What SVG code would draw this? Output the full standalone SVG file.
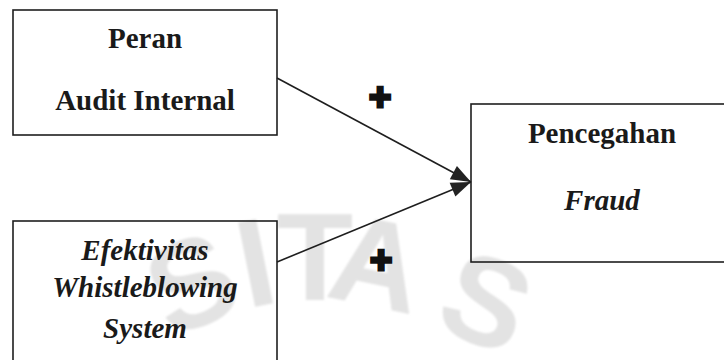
<svg xmlns="http://www.w3.org/2000/svg" width="724" height="360" viewBox="0 0 724 360">
<style>
.box{fill:none;stroke:#1e1e1e;stroke-width:1.6}
.lbl{font-family:"Liberation Serif","Times New Roman",serif;font-weight:bold;font-size:29px;fill:#1a1a1a;text-anchor:middle}
.it{font-style:italic}
.wm{font-family:"Liberation Sans",Arial,sans-serif;font-weight:bold;font-size:125px;fill:#e3e3e3;text-anchor:middle}
.conn{stroke:#1e1e1e;stroke-width:1.6;fill:none}
.plus{font-family:"Liberation Sans",Arial,sans-serif;font-weight:bold;font-size:38px;fill:#111;stroke:#111;stroke-width:3;text-anchor:middle}
</style>
<defs>
<marker id="ah" markerUnits="userSpaceOnUse" markerWidth="24" markerHeight="18" refX="21" refY="9" orient="auto">
<path d="M1,1.5 L21,9 L1,16.5 Z" fill="#222"/>
</marker>
<filter id="soft" x="-10%" y="-10%" width="120%" height="120%"><feGaussianBlur stdDeviation="1.2"/></filter>
</defs>
<rect width="724" height="360" fill="#fff"/>
<g id="watermark" filter="url(#soft)">
<text class="wm" x="315" y="300" transform="rotate(-24 315 560)">S</text>
<text class="wm" x="315" y="300" transform="rotate(-11.3 315 560)">I</text>
<text class="wm" x="315" y="300">T</text>
<text class="wm" x="315" y="300" transform="rotate(11.8 315 560)">A</text>
<text class="wm" x="487" y="345" transform="rotate(22 487 300)">S</text>
</g>
<g id="connectors">
<line class="conn" x1="277" y1="78" x2="471" y2="182" marker-end="url(#ah)"/>
<line class="conn" x1="277" y1="262" x2="471" y2="182" marker-end="url(#ah)"/>
<text class="plus" x="380" y="110">+</text>
<text class="plus" x="381" y="273">+</text>
</g>
<g id="node-audit">
<rect class="box" x="13" y="10" width="264" height="125"/>
<text class="lbl" x="145" y="48">Peran</text>
<text class="lbl" x="145" y="110">Audit Internal</text>
</g>
<g id="node-wbs">
<rect class="box" x="13" y="221" width="264" height="150"/>
<text class="lbl it" x="145" y="260">Efektivitas</text>
<text class="lbl it" x="145" y="297">Whistleblowing</text>
<text class="lbl it" x="145" y="338">System</text>
</g>
<g id="node-fraud">
<rect class="box" x="471" y="104" width="270" height="158"/>
<text class="lbl" x="602" y="143">Pencegahan</text>
<text class="lbl it" x="602" y="210">Fraud</text>
</g>
</svg>
